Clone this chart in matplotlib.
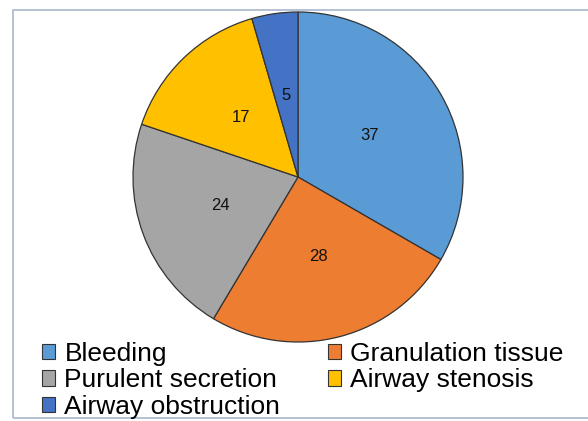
import numpy as np
import matplotlib.pyplot as plt
from matplotlib.patches import Rectangle, Patch

labels = ["Bleeding", "Granulation tissue", "Purulent secretion",
          "Airway stenosis", "Airway obstruction"]
values = [37, 28, 24, 17, 5]
colors = ["#5b9bd5", "#ed7d31", "#a5a5a5", "#ffc000", "#4472c4"]

plt.rcParams['font.family'] = ['Liberation Sans', 'DejaVu Sans']

fig = plt.figure(figsize=(5.88, 4.21), dpi=100)

# outer chart frame
fig.patches.append(Rectangle((13 / 588, 3 / 421), 1.0, 408 / 421,
                             transform=fig.transFigure, fill=False,
                             edgecolor="#a9b8cc", linewidth=1.2))

ax = fig.add_axes([133 / 588, 79 / 421, 330 / 588, 330 / 421])
wedges, texts = ax.pie(values, colors=colors, startangle=90, counterclock=False,
                       wedgeprops=dict(edgecolor="#333333", linewidth=0.9))
for w, v in zip(wedges, values):
    ang = np.deg2rad((w.theta1 + w.theta2) / 2)
    ax.text(0.5 * np.cos(ang), 0.5 * np.sin(ang), str(v), ha="center",
            va="center", fontsize=12, color="#111111")
ax.set_xlim(-1, 1)
ax.set_ylim(-1, 1)
ax.set_aspect("equal")

handles = [Patch(facecolor=c, edgecolor="#333333", linewidth=0.8) for c in colors]
# order for 2 columns, row-wise reading
order = [0, 2, 4, 1, 3]
fig.legend([handles[i] for i in order], [labels[i] for i in order],
           ncol=2, loc="upper left", bbox_to_anchor=(42 / 588, 79 / 421),
           frameon=False, fontsize=19, handlelength=0.5, handleheight=0.5,
           handletextpad=0.35, columnspacing=1.8, labelspacing=0.09,
           borderpad=0, borderaxespad=0)

fig.savefig("out.png", dpi=100)
